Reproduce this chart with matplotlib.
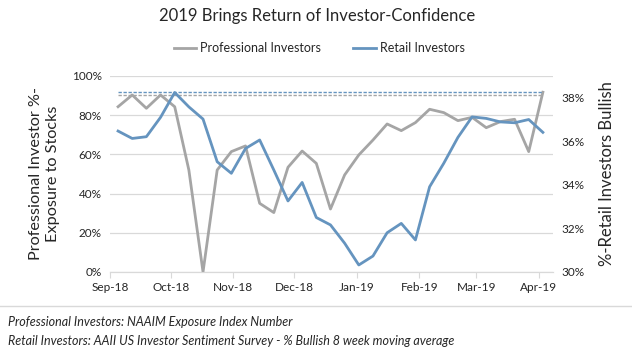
import numpy as np
import pandas as pd
import matplotlib
matplotlib.use('Agg')
import matplotlib.pyplot as plt
import matplotlib.dates as mdates
from matplotlib.lines import Line2D

plt.rcParams['font.family'] = ['Lato', 'DejaVu Sans']

# weekly survey dates
dates = pd.to_datetime([
    '2018-09-05', '2018-09-12', '2018-09-19', '2018-09-26', '2018-10-03', '2018-10-10',
    '2018-10-17', '2018-10-24', '2018-10-31', '2018-11-07', '2018-11-14', '2018-11-21',
    '2018-11-28', '2018-12-05', '2018-12-12', '2018-12-19', '2018-12-26', '2019-01-02',
    '2019-01-09', '2019-01-16', '2019-01-23', '2019-01-30', '2019-02-06', '2019-02-13',
    '2019-02-20', '2019-02-27', '2019-03-06', '2019-03-13', '2019-03-20', '2019-03-27',
    '2019-04-03'])

# NAAIM exposure index (%)
professional = [84.3, 90.3, 83.5, 90.3, 84.3, 52.0, 0.0, 52.0, 61.4, 64.3, 35.0, 30.3,
                53.4, 61.7, 55.4, 32.1, 49.5, 59.7, 67.3, 75.5, 72.1, 76.2, 83.0, 81.3,
                77.2, 78.9, 73.6, 76.7, 77.9, 61.4, 91.7]

# AAII % bullish, 8 week moving average
retail = [36.47, 36.13, 36.21, 37.10, 38.24, 37.58, 37.02, 35.06, 34.53, 35.67, 36.06, 34.68,
          33.26, 34.11, 32.50, 32.16, 31.32, 30.32, 30.73, 31.80, 32.23, 31.47, 33.91, 34.99,
          36.18, 37.12, 37.05, 36.89, 36.85, 37.00, 36.41]

prof_level = 90.5
retail_level = 38.25

gray = '#a5a5a5'
blue = '#6594bf'
grid_c = '#d9d9d9'
text_c = '#262626'

fig = plt.figure(figsize=(6.32, 3.5), dpi=100)
ax1 = fig.add_axes([0.174, 0.223, 0.701, 0.56])
ax2 = ax1.twinx()

ax1.plot(dates, professional, color=gray, lw=2.0, solid_joinstyle='round', zorder=3)
ax2.plot(dates, retail, color=blue, lw=2.0, solid_joinstyle='round', zorder=3)
ax1.hlines(prof_level, dates[0], dates[-1], colors=gray, linestyles=(0, (2.4, 1.2)), lw=1.0)
ax2.hlines(retail_level, dates[0], dates[-1], colors=blue, linestyles=(0, (2.4, 1.2)), lw=1.0)

ax1.set_ylim(0, 100)
ax1.set_yticks(np.arange(0, 101, 20))
ax1.set_yticklabels(['%d%%' % v for v in range(0, 101, 20)])
ax2.set_ylim(30, 39)
ax2.set_yticks(np.arange(30, 39, 2))
ax2.set_yticklabels(['%d%%' % v for v in range(30, 39, 2)])

ax1.set_xlim(pd.Timestamp('2018-09-01'), pd.Timestamp('2019-04-08'))
ax1.xaxis.set_major_locator(mdates.MonthLocator())
ax1.xaxis.set_major_formatter(mdates.DateFormatter('%b-%y'))

ax1.grid(axis='y', color=grid_c, lw=0.9)
ax1.set_axisbelow(True)
for ax in (ax1, ax2):
    for s in ('top', 'left', 'right'):
        ax.spines[s].set_visible(False)
    ax.spines['bottom'].set_color(grid_c)
    ax.tick_params(axis='y', length=0, labelsize=8.5, colors=text_c, pad=6)
ax1.tick_params(axis='x', length=4, color=grid_c, labelsize=8.5, labelcolor=text_c, pad=3)

ax1.set_ylabel('Professional Investor %-\nExposure to Stocks', fontsize=11.7, color=text_c,
               linespacing=1.25)
ax1.yaxis.set_label_coords(-0.113, 0.5)
ax2.set_ylabel('%-Retail Investors Bullish', fontsize=12, color=text_c)
ax2.yaxis.set_label_coords(1.104, 0.5)

fig.text(0.502, 0.955, '2019 Brings Return of Investor-Confidence', ha='center', va='center',
         fontsize=12, color=text_c)
handles = [Line2D([], [], color=gray, lw=2.0), Line2D([], [], color=blue, lw=2.0)]
fig.legend(handles, ['Professional Investors', 'Retail Investors'], loc='center',
           bbox_to_anchor=(0.505, 0.862), ncol=2, frameon=False, fontsize=9,
           handlelength=1.8, handletextpad=0.3, columnspacing=2.6, labelcolor=text_c)

fig.add_artist(Line2D([0, 1], [1 - 306 / 350] * 2, color=grid_c, lw=1.0,
                      transform=fig.transFigure))
fig.text(0.012, 1 - 322 / 350, 'Professional Investors: NAAIM Exposure Index Number',
         ha='left', va='center', fontsize=9, style='italic', color=text_c)
fig.text(0.012, 1 - 341 / 350, 'Retail Investors: AAII US Investor Sentiment Survey - % Bullish 8 week moving average',
         ha='left', va='center', fontsize=9, style='italic', color=text_c)

fig.savefig('out.png', dpi=100, facecolor='white')
